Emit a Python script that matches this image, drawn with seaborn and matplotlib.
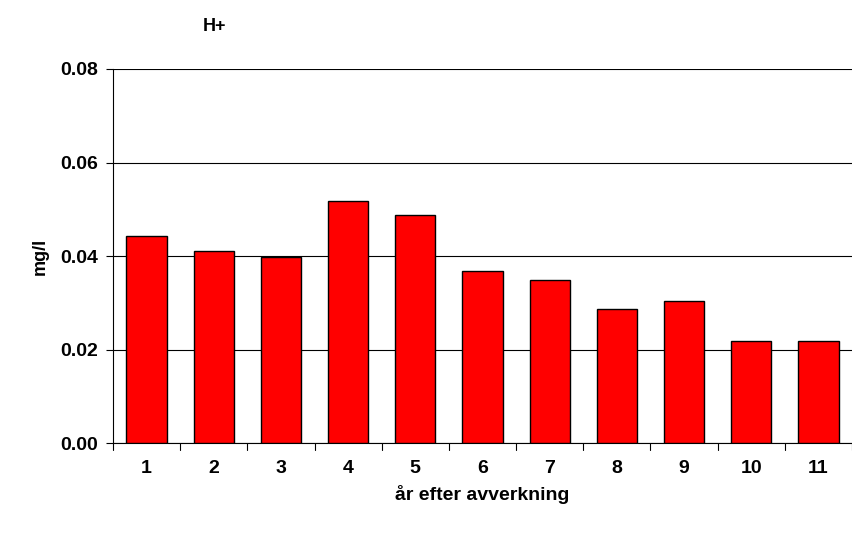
import matplotlib
matplotlib.use("Agg")
import matplotlib.pyplot as plt
import seaborn as sns
import pandas as pd
import numpy as np

years = ["1", "2", "3", "4", "5", "6", "7", "8", "9", "10", "11"]
values = [0.0443, 0.0411, 0.0398, 0.0518, 0.0488, 0.0368, 0.0349, 0.0287, 0.0304, 0.0218, 0.0218]

sns.set_style("white")
plt.rcParams['font.family'] = ['Liberation Sans', 'DejaVu Sans']
plt.rcParams['text.color'] = 'black'
plt.rcParams['xtick.color'] = 'black'
plt.rcParams['ytick.color'] = 'black'
plt.rcParams['axes.labelcolor'] = 'black'

fig = plt.figure(figsize=(8.52, 5.39), dpi=100)
ax = fig.add_axes([0.1326, 0.178, 0.8674, 0.694])
df = pd.DataFrame({"year": years, "val": values})
sns.barplot(data=df, x="year", y="val", color="#ff0000", width=0.6, saturation=1,
            edgecolor="black", linewidth=1, ax=ax, zorder=3)
ax.set_ylim(0, 0.08)
ax.set_xlim(-0.5, len(years) - 0.5)
ax.set_yticks(np.arange(0, 0.081, 0.02))
ax.set_yticklabels([f"{v:.2f}" for v in np.arange(0, 0.081, 0.02)], fontsize=14, fontweight="bold")
ax.yaxis.grid(True, color="black", linewidth=0.8, zorder=0)
ax.set_axisbelow(True)
ax.set_xticks(range(len(years)))
ax.set_xticklabels(years, fontsize=14, fontweight="bold")
ax.tick_params(axis="x", length=0, pad=12)
ax.tick_params(axis="y", length=5, left=True, pad=6)
for b in np.arange(-0.5, len(years), 1.0):
    ax.plot([b, b], [0, -0.0015], color="black", lw=0.8, clip_on=False)
for s in ["top", "right"]:
    ax.spines[s].set_visible(False)
for s in ["left", "bottom"]:
    ax.spines[s].set_color("black")
    ax.spines[s].set_linewidth(0.8)
ax.set_xlabel("år efter avverkning", fontsize=14, fontweight="bold", labelpad=6)
ax.set_ylabel("mg/l", fontsize=13, fontweight="bold", labelpad=8)
fig.text(0.252, 0.95, "H+", fontsize=13, fontweight="bold", ha="center", va="center")
fig.savefig("out.png", dpi=100)
